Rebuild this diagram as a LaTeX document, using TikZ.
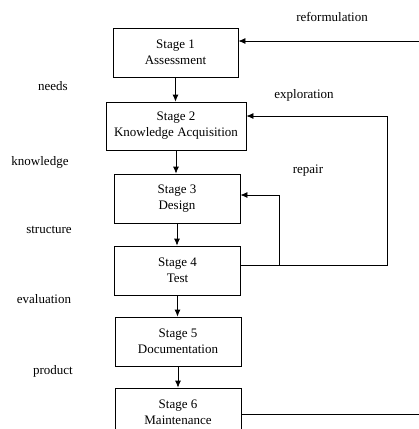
\documentclass[tikz,border=0pt]{standalone}
\usepackage{fontspec}
\setmainfont{Liberation Serif}
\usetikzlibrary{arrows.meta}
\begin{document}
\begin{tikzpicture}[x = 1pt, y = -1pt, > = {Latex[length = 7pt, width = 6pt]}, font = \fontsize{13}{16}\selectfont,
	stage/.style = {draw, line width = 0.8pt, align = center, inner sep = 0pt, minimum height = 49pt, minimum width = 126pt},
	flow/.style = {line width = 0.8pt}]
	\useasboundingbox ( 0, 0 ) rectangle ( 419, 429 );
	% stages
	\node [stage, minimum width = 125pt] (stage1) at ( 175.5, 52.5 ) {Stage 1\\Assessment};
	\node [stage, minimum width = 140pt, minimum height = 48pt] (stage2) at ( 176, 126 ) {Stage 2\\Knowledge Acquisition};
	\node [stage] (stage3) at ( 177, 198.5 ) {Stage 3\\Design};
	\node [stage] (stage4) at ( 177.5, 270.5 ) {Stage 4\\Test};
	\node [stage] (stage5) at ( 178, 341.5 ) {Stage 5\\Documentation};
	\node [stage] (stage6) at ( 178, 412.5 ) {Stage 6\\Maintenance};
	% labels
	\node (reform) at ( 332, 17 ) {reformulation};
	\node (needs) at ( 53, 86 ) {needs};
	\node (explore) at ( 304, 95 ) {exploration};
	\node (know) at ( 40, 162 ) {knowledge};
	\node (repair) at ( 308, 171 ) {repair};
	\node (struct) at ( 49, 230 ) {structure};
	\node (eval) at ( 44, 299 ) {evaluation};
	\node (product) at ( 53, 371 ) {product};
	% down arrows
	\foreach \a/\b in {stage1/stage2, stage2/stage3, stage3/stage4, stage4/stage5, stage5/stage6}
		\draw [flow, ->] (\a.south) -- (\a.south |- \b.north);
	% feedback
	\coordinate (edgeTop) at ( 419, 41 );
	\coordinate (edgeBot) at ( 419, 414 );
	\coordinate (loopB) at ( 387, 265 );
	\coordinate (loopT) at ( 387, 116 );
	\coordinate (fixB) at ( 279, 265 );
	\coordinate (fixT) at ( 279, 195 );
	\draw [flow, ->] (edgeTop) -- (edgeTop -| stage1.east);
	\draw [flow] (edgeBot -| stage6.east) -- (edgeBot);
	\draw [flow, ->] (loopB -| stage4.east) -- (loopB) -- (loopT) -- (loopT -| stage2.east);
	\draw [flow, ->] (fixB) -- (fixT) -- (fixT -| stage3.east);
\end{tikzpicture}
\end{document}
